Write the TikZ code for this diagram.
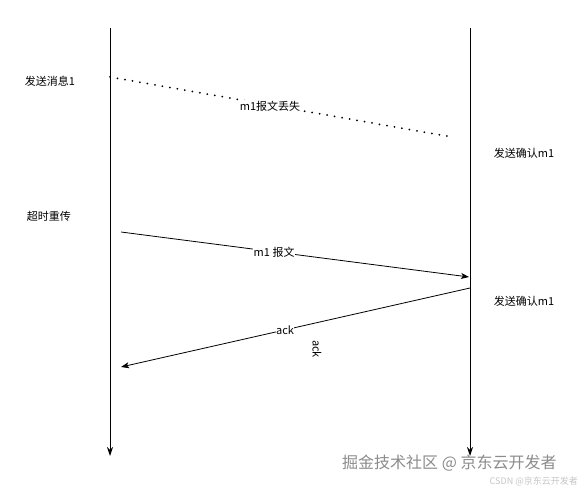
\documentclass[tikz,border=0pt]{standalone}
\usepackage{fontspec}
\setmainfont{Noto Sans CJK SC}
\usetikzlibrary{arrows.meta}
\begin{document}
\begin{tikzpicture}[x=1pt,y=-1pt,
  lifeline/.style={line width=1pt,-{Stealth[length=9pt,width=6pt]}},
  msg/.style={line width=0.8pt,-{Stealth[length=8pt,width=6pt,inset=2pt]}},
  lost/.style={line width=2pt,line cap=round,dash pattern=on 0pt off 7.6pt},
  lbl/.style={font=\fontsize{11}{13}\selectfont,inner sep=1pt},
  onlbl/.style={lbl,fill=white,inner sep=0.5pt},
  wmbig/.style={font=\fontsize{16}{18}\selectfont,text=gray!90,inner sep=0pt},
  wmsmall/.style={font=\fontsize{9}{10}\selectfont,text=gray!45,inner sep=0pt}]
\useasboundingbox (0,0) rectangle (581,486);
\fill[white] (0,0) rectangle (581,486);
% lifelines
\coordinate (Ltop) at (110,28);
\coordinate (Lbot) at (110,456);
\coordinate (Rtop) at (470,28);
\coordinate (Rbot) at (470,456);
\draw[lifeline] (Ltop) -- (Lbot);
\draw[lifeline] (Rtop) -- (Rbot);
% lost message
\coordinate (d1) at (110,77);
\coordinate (d2) at (452,137);
\draw[lost] (d1) -- (d2);
\node[onlbl] (lostlbl) at (270,106) {m1报文丢失};
% retransmission
\coordinate (m1s) at (121,232);
\coordinate (m1e) at (469,277);
\draw[msg] (m1s) -- node[onlbl,pos=0.44] (m1lbl) {m1 报文} (m1e);
% ack
\coordinate (acks) at (470,288);
\coordinate (acke) at (121,367);
\draw[msg] (acks) -- node[onlbl,pos=0.53] (acklbl) {ack} (acke);
\node[lbl,rotate=-90] (ackv) at (317,349) {ack};
% side labels
\node[lbl] (send1) at (50,81) {发送消息1};
\node[lbl] (retry) at (49,216) {超时重传};
\node[lbl] (conf1) at (524,153) {发送确认m1};
\node[lbl] (conf2) at (524,301) {发送确认m1};
% watermarks
\node[wmbig,anchor=west] (wm1) at (342,463) {掘金技术社区 @ 京东云开发者};
\node[wmsmall,anchor=east] (wm2) at (578,481) {CSDN @京东云开发者};
\end{tikzpicture}
\end{document}
